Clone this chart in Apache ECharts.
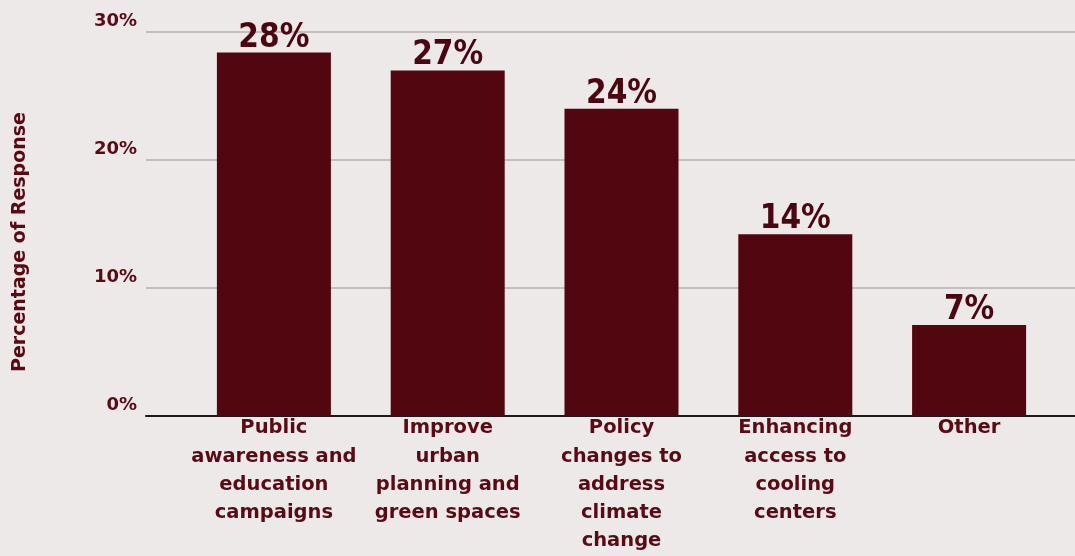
<!DOCTYPE html>
<html>
<head>
<meta charset="utf-8">
<script src="https://cdn.jsdelivr.net/npm/echarts@6/dist/echarts.min.js"></script>
<style>
  html, body { margin: 0; padding: 0; background: #eee9e9; }
  #chart { width: 1075px; height: 556px; }
</style>
</head>
<body>
<div id="chart"></div>
<script>
const categories = [
  "Public\nawareness and\neducation\ncampaigns",
  "Improve\nurban\nplanning and\ngreen spaces",
  "Policy\nchanges to\naddress\nclimate\nchange",
  "Enhancing\naccess to\ncooling\ncenters",
  "Other",
];
const responseShare = [28.4, 27.0, 24.0, 14.2, 7.1];
const valueLabels = ["28%", "27%", "24%", "14%", "7%"];
const yTicks = [0, 10, 20, 30];

const labelColor = "#5a0a14";
const barColor = "#52060f";
const mainFont = "'DejaVu Sans', sans-serif";

const options = {
  backgroundColor: "#eee9e9",
  animation: false,
  grid: [
    // outer grid: gridlines, y labels and axis line across full width
    { left: 146, right: 0, top: 32, bottom: 140, outerBoundsMode: "none", containLabel: false },
    // inner grid: the bars themselves
    { left: 187, right: 19, top: 32, bottom: 140, outerBoundsMode: "none", containLabel: false },
  ],
  xAxis: [
    {
      gridIndex: 0,
      type: "category",
      data: [""],
      axisLine: { show: true, lineStyle: { color: "#1a1a1a", width: 2 } },
      axisTick: { show: false },
      axisLabel: { show: false },
    },
    {
      gridIndex: 1,
      type: "category",
      data: categories,
      axisLine: { show: false },
      axisTick: { show: false },
      axisLabel: {
        interval: 0,
        margin: -2,
        color: labelColor,
        fontFamily: mainFont,
        fontWeight: "bold",
        fontSize: 19.5,
        lineHeight: 28.3,
        align: "center",
      },
    },
  ],
  yAxis: [
    {
      gridIndex: 0,
      type: "value",
      min: yTicks[0],
      max: yTicks[yTicks.length - 1],
      interval: 10,
      name: "Percentage of Response",
      nameLocation: "middle",
      nameGap: 116,
      nameTextStyle: {
        color: labelColor,
        fontFamily: mainFont,
        fontWeight: "bold",
        fontSize: 19,
        padding: [0, 36, 0, 0],
      },
      axisLine: { show: false },
      axisTick: { show: false },
      axisLabel: {
        formatter: "{value}%",
        color: labelColor,
        fontFamily: mainFont,
        fontWeight: "bold",
        fontSize: 18,
        margin: 9,
        verticalAlign: "bottom",
        padding: [0, 0, 2, 0],
      },
      splitLine: { lineStyle: { color: "#c4bebe", width: 2 } },
    },
    {
      gridIndex: 1,
      type: "value",
      min: yTicks[0],
      max: yTicks[yTicks.length - 1],
      interval: 10,
      show: false,
      splitLine: { show: false },
    },
  ],
  series: [
    {
      type: "bar",
      xAxisIndex: 1,
      yAxisIndex: 1,
      data: responseShare,
      barWidth: "65.6%",
      itemStyle: { color: barColor },
      label: {
        show: true,
        position: "top",
        distance: -2,
        formatter: (p) => valueLabels[p.dataIndex],
        color: "#4a0510",
        fontFamily: "'DejaVu Sans Condensed', 'DejaVu Sans', sans-serif",
        fontWeight: "bold",
        fontSize: 33,
      },
      emphasis: { disabled: true },
    },
  ],
};

document.addEventListener("DOMContentLoaded", function () {
  const chartEl = document.getElementById("chart");
  const chart = echarts.init(chartEl);
  chart.setOption(options);
});
</script>
</body>
</html>
